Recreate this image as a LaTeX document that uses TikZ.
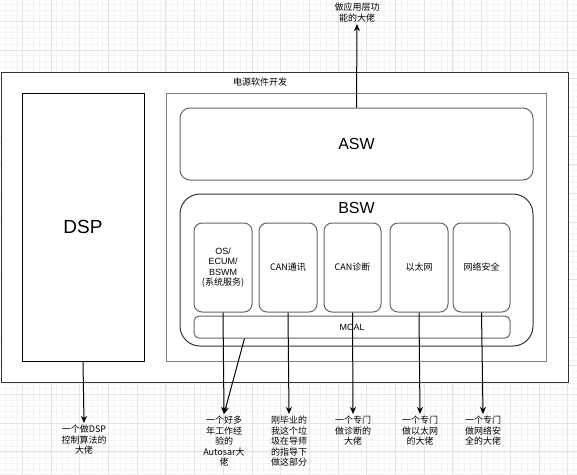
\documentclass[tikz,border=0pt]{standalone}
\usepackage{fontspec}
\setmainfont{Noto Sans CJK SC}
\newfontfamily\arialish{Liberation Sans}
\usetikzlibrary{arrows.meta}

\definecolor{gridmaj}{HTML}{E4E4E4}
\definecolor{gridmin}{HTML}{F4F4F4}
\definecolor{edgegray}{HTML}{666666}

\begin{document}
\begin{tikzpicture}[x=1pt,y=-1pt,
  box/.style={draw,fill=white,line width=1pt,inner sep=0pt},
  txt/.style={align=center,inner sep=2pt,font=\fontsize{9}{10.5}\selectfont},
  big/.style={font=\arialish\fontsize{16}{18}\selectfont},
  arr/.style={line width=1pt,-{Stealth[length=7pt,width=6pt,inset=2pt]}}
]
\useasboundingbox (0,0) rectangle (577,474);

\begin{scope}
\clip (0,0) rectangle (577,474);
\draw[gridmin,line width=0.6pt,shift={(22.3,21.3)}] (-40,-40) grid[step=5.74pt] (580,480);
\draw[gridmaj,line width=0.8pt,shift={(22.3,21.3)}] (-40,-40) grid[step=28.7pt] (580,480);
\end{scope}

\node[box,draw=black!80,minimum width=567,minimum height=310] (outer) at (284.5,227) {};
\node[txt] (title) at (260,82) {电源软件开发};

\node[box,draw=black,minimum width=122,minimum height=268,font=\arialish\fontsize{19}{21}\selectfont] (dsp) at (83,227) {DSP};

\node[box,draw=black!50,minimum width=380,minimum height=268] (cont) at (356,227) {};
\node[box,draw=edgegray,rounded corners=10,minimum width=353,minimum height=72,big] (asw) at (356.5,144) {ASW};
\node[box,draw=black!80,rounded corners=20,minimum width=353,minimum height=152] (bsw) at (356.5,270) {};
\node[big] (bswname) at ([yshift=-14]bsw.north) {BSW};

\begin{scope}[every node/.style={box,draw=edgegray,rounded corners=8,minimum height=89,
  align=center,font=\fontsize{9}{10.5}\selectfont}]
\node[minimum width=58] (os) at (223,267.5) {{\arialish OS/}\\{\arialish ECUM/}\\{\arialish BSWM}\\(系统服务)};
\node[minimum width=58] (can) at (288,267.5) {CAN通讯};
\node[minimum width=57] (diag) at (352.5,267.5) {CAN诊断};
\node[minimum width=58] (eth) at (419,267.5) {以太网};
\node[minimum width=57] (sec) at (481.5,267.5) {网络安全};
\end{scope}

\node[box,draw=edgegray,rounded corners=5,minimum width=316,minimum height=22,
  font=\arialish\fontsize{9}{10.5}\selectfont] (mcal) at (352,327) {MCAL};

% who does which part
\node[txt,anchor=south] (aswp) at (357,24) {做应用层功\\能的大佬};
\node[txt,anchor=north] (dspp) at (84,423) {一个做DSP\\控制算法的\\大佬};
\node[txt,anchor=north] (osp) at (224,414) {一个好多\\年工作经\\验的\\Autosar大\\佬};
\node[txt,anchor=north] (canp) at (289,414) {刚毕业的\\我这个垃\\圾在导师\\的指导下\\做这部分};
\node[txt,anchor=north] (diagp) at (353,414) {一个专门\\做诊断的\\大佬};
\node[txt,anchor=north] (ethp) at (420,414) {一个专门\\做以太网\\的大佬};
\node[txt,anchor=north] (secp) at (483,414) {一个专门\\做网络安\\全的大佬};

\draw[arr] (asw.north) -- (aswp.south);
\draw[arr] (dsp.south) -- (dspp.north);
\draw[arr] (os.south) -- (osp.north);
\draw[arr] ([xshift=51]mcal.south west) -- (osp.north);
\draw[arr] (can.south) -- (canp.north);
\draw[arr] (diag.south) -- (diagp.north);
\draw[arr] (eth.south) -- (ethp.north);
\draw[arr] (sec.south) -- (secp.north);

\end{tikzpicture}
\end{document}
